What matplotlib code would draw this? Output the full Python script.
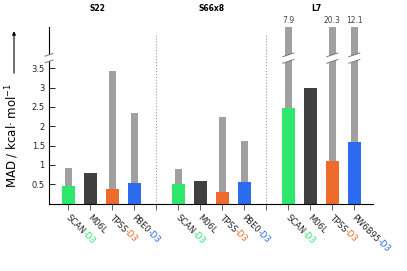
import numpy as np
import matplotlib
matplotlib.use("Agg")
import matplotlib.pyplot as plt
from matplotlib import transforms
from matplotlib.patches import Polygon
from matplotlib.font_manager import FontProperties

# benchmark sets and methods
sets = ["S22", "S66x8", "L7"]
methods = [["SCAN", "M06L", "TPSS", "PBE0"],
           ["SCAN", "M06L", "TPSS", "PBE0"],
           ["SCAN", "M06L", "TPSS", "PW6B95"]]
# MAD without dispersion correction (grey), None = no bar
mad_plain = [[0.93, None, 3.43, 2.35],
             [0.89, None, 2.25, 1.62],
             [7.9, None, 20.3, 12.1]]
# MAD with D3 (or plain M06L)
mad_d3 = [[0.45, 0.79, 0.37, 0.54],
          [0.52, 0.58, 0.31, 0.57],
          [2.48, 2.98, 1.10, 1.59]]
yticks = [0.5, 1, 1.5, 2, 2.5, 3, 3.5]
ytick_labels = ["0.5", "1", "1.5", "2", "2.5", "3", "3.5"]

colors = ["#2ee86b", "#404040", "#ef6b2b", "#2b6bef"]
grey = "#a0a0a0"
ytop = 4.57
brk_lo, brk_hi = 3.68, 3.85

fig = plt.figure(figsize=(4.07, 2.71), dpi=100)
ax = fig.add_axes([0.1204, 0.2487, 0.7961, 0.6517])
ax.set_xlim(-0.88, 13.85)
ax.set_ylim(0, ytop)
for s in ["top", "right"]:
    ax.spines[s].set_visible(False)
ax.spines["left"].set_linewidth(0.8)
ax.spines["bottom"].set_linewidth(0.8)


def draw_break(xc, hw):
    s = 0.048 * hw / 0.25
    poly = Polygon([(xc - hw, brk_lo - s), (xc + hw, brk_lo + s),
                    (xc + hw, brk_hi + s), (xc - hw, brk_hi - s)],
                   closed=True, fc="white", ec="none", zorder=5, clip_on=False)
    ax.add_patch(poly)
    for yb in (brk_lo, brk_hi):
        ax.plot([xc - hw, xc + hw], [yb - s, yb + s], color="#777777",
                lw=0.7, zorder=6, clip_on=False)


xt = transforms.offset_copy(ax.get_xaxis_transform(), fig=fig,
                            x=2 * 0.72, y=-9 * 0.72, units="points")
fp = FontProperties(size=6)
renderer = fig.canvas.get_renderer()
ang = np.deg2rad(45)

for g, name in enumerate(sets):
    for i, m in enumerate(methods[g]):
        x = g * 5 + i
        v = mad_plain[g][i]
        if v is not None:
            ax.bar(x, min(v, ytop + 1), width=0.3, color=grey, zorder=1)
            if v > ytop:
                draw_break(x, 0.25)
                ax.text(x, 1.037, f"{v}", transform=ax.get_xaxis_transform(),
                        ha="center", va="center", fontsize=5.5, color="#444444")
        ax.bar(x, mad_d3[g][i], width=0.6, color=colors[i], zorder=2)

        # rotated tick label, D3 suffix coloured
        ax.text(x, 0, m, transform=xt, rotation=-45, rotation_mode="anchor",
                ha="left", va="top", fontproperties=fp, color="#222222")
        if i != 1:
            w, h, d = renderer.get_text_width_height_descent(m, fp, ismath=False)
            off = transforms.offset_copy(xt, fig=fig, x=w * np.cos(ang) * 0.72,
                                         y=-w * np.sin(ang) * 0.72, units="points")
            ax.text(x, 0, "-D3", transform=off, rotation=-45, rotation_mode="anchor",
                    ha="left", va="top", fontproperties=fp, color=colors[i])

# spine break
draw_break(-0.88, 0.18)

# group titles
for xpos, name in zip([1.32, 6.49, 11.27], sets):
    ax.text(xpos, 1.107, name, transform=ax.get_xaxis_transform(),
            ha="center", va="center", fontsize=5.5, fontweight="bold")

# separators
for xs in (4, 9):
    ax.plot([xs, xs], [0, 0.955], transform=ax.get_xaxis_transform(),
            color="#999999", ls=":", lw=0.8, clip_on=False, zorder=0)

ax.set_xticks(range(14))
ax.set_xticklabels([])
ax.tick_params(axis="x", direction="out", length=4, width=0.6, color="#444444")
ax.set_yticks(yticks)
ax.set_yticklabels(ytick_labels)
ax.tick_params(axis="y", direction="in", length=4, width=0.6, labelsize=6,
               labelcolor="#222222", pad=3)

fig.text(0.0295, 0.502, "MAD / kcal· mol$^{-1}$", rotation=90,
         ha="center", va="center", fontsize=8.5)
fig.add_artist(matplotlib.patches.FancyArrowPatch(
    (0.0344, 0.730), (0.0344, 0.885), transform=fig.transFigure,
    arrowstyle="-|>", mutation_scale=5, lw=0.8, color="black",
    shrinkA=0, shrinkB=0))

fig.savefig("out.png", dpi=100)
